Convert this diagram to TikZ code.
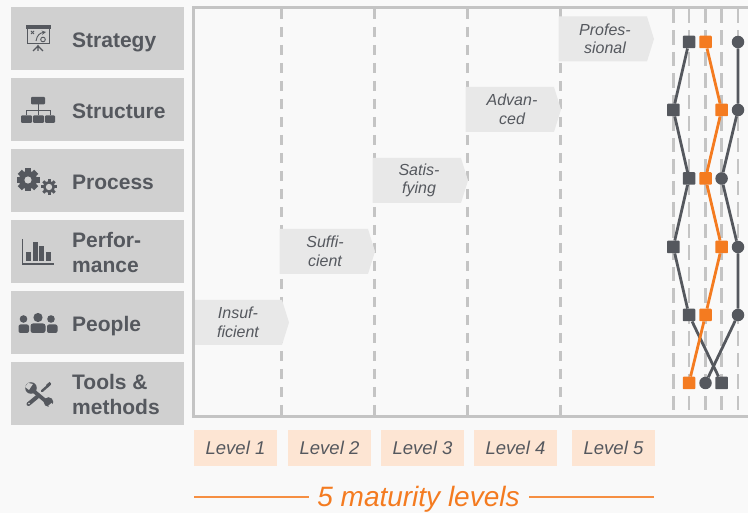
\documentclass[tikz,border=0pt]{standalone}
\usepackage{fontspec}
\setmainfont{Liberation Sans}
\definecolor{bgc}{HTML}{F9F9F9}
\definecolor{boxc}{HTML}{D0D0D0}
\definecolor{ink}{HTML}{55585E}
\definecolor{rulec}{HTML}{C4C4C4}
\definecolor{flagc}{HTML}{E8E8E8}
\definecolor{peach}{HTML}{FDE5D3}
\definecolor{orng}{HTML}{F47B20}
\tikzset{
  dimbox/.style={fill=boxc,minimum width=173pt,minimum height=63pt,inner sep=0pt},
  dimtext/.style={anchor=west,inner sep=0pt,text=ink,font=\fontsize{21}{25}\selectfont\bfseries,align=left},
  flagshape/.style={fill=flagc},
  flagtext/.style={inner sep=0pt,text=ink,font=\fontsize{16}{18.5}\selectfont\itshape,align=center},
  lvl/.style={fill=peach,minimum width=83pt,minimum height=36pt,inner sep=0pt,text=ink,font=\fontsize{18.5}{20}\selectfont\itshape},
  gridl/.style={rulec,line width=3pt,dash pattern=on 10pt off 8pt},
  gridr/.style={rulec,line width=2.4pt,dash pattern=on 14.5pt off 7pt},
  frameline/.style={rulec,line width=3pt},
  ds/.style={fill=ink,minimum size=12.5pt,inner sep=0pt,rounded corners=.8pt},
  os/.style={fill=orng,minimum size=12.5pt,inner sep=0pt,rounded corners=.8pt},
  dc/.style={circle,fill=ink,minimum size=12.5pt,inner sep=0pt},
  dl/.style={ink,line width=2.8pt},
  ol/.style={orng,line width=2.8pt},
}
\newcommand{\flagat}[4]{\fill[flagshape] (#1-1.5,#2) -- (#1+87,#2) -- (#1+94,#2+22.5) -- (#1+87,#2+45) -- (#1-1.5,#2+45) -- cycle;
  \node[flagtext] at (#1+43+#4,#2+22.5) {#3};}
\begin{document}
\begin{tikzpicture}[x=1pt,y=-1pt]
\useasboundingbox (0,0) rectangle (748,513);
\fill[bgc] (0,0) rectangle (748,513);
% left boxes
\foreach \y/\n in {38.5/a,109.5/b,180.5/c,251.5/d,322.5/e,393.5/f}
  \node[dimbox] (box\n) at (97.5,\y) {};
\node[dimtext] (ta) at (72,42) {Strategy};
\node[dimtext] (tb) at (72,111) {Structure};
\node[dimtext] (tc) at (72,182) {Process};
\node[dimtext] (td) at (72,252) {Perfor-\\mance};
\node[dimtext] (te) at (72,326) {People};
\node[dimtext] (tf) at (72,394) {Tools \&\\methods};
% strategy icon
\fill[ink] (25.5,25.5) rectangle (50.5,29);
\draw[ink,line width=1pt] (27,29) -- (27,44) -- (49,44) -- (49,29);
\draw[ink,line width=1.2pt] (38,45) -- (38,51) (33,51) -- (38,46) -- (43,51);
\draw[ink,line width=.9pt] (31,31) -- (34,34) (34,31) -- (31,34);
\draw[ink,line width=.9pt,-stealth] (36,41) .. controls (37,35) and (40,33) .. (46,32);
\draw[ink,line width=.9pt] (43,39.5) circle (2.3);
% structure icon
\fill[ink,rounded corners=1pt] (31,97) rectangle (45,104.5);
\fill[ink,rounded corners=1pt] (21,115.5) rectangle (32,123);
\fill[ink,rounded corners=1pt] (33,115.5) rectangle (44,123);
\fill[ink,rounded corners=1pt] (45,115.5) rectangle (55,123);
\draw[ink,line width=.8pt] (38,104) -- (38,115.5) (26.5,115.5) -- (26.5,110) -- (50,110) -- (50,115.5);
% process icon
\foreach \a in {0,45,...,135}
  \fill[ink,rotate around={\a:(28,180)}] (25,168.5) rectangle (31,191.5);
\fill[ink] (28,180) circle (9);
\fill[boxc] (28,180) circle (3.6);
\foreach \a in {0,45,...,135}
  \fill[ink,rotate around={\a:(49,187)}] (47.5,179) rectangle (50.5,195);
\fill[ink] (49,187) circle (5.8);
\fill[boxc] (49,187) circle (3.2);
% performance icon
\draw[ink,line width=1.2pt] (22.5,239) -- (22.5,264) -- (54,264);
\fill[ink] (26,252) rectangle (31,261);
\fill[ink] (32.5,242) rectangle (37.5,261);
\fill[ink] (39,246) rectangle (44,261);
\fill[ink] (45.5,252) rectangle (50.5,261);
% people icon
\fill[ink] (38,317.5) circle (4.6);
\fill[ink] (23.5,319) circle (3.8);
\fill[ink] (51,319) circle (3.8);
\fill[ink,rounded corners=2.5pt] (30.5,333) -- (30.5,323.5) -- (45.5,323.5) -- (45.5,333) -- cycle;
\fill[ink,rounded corners=2pt] (18.5,333) -- (18.5,324.5) -- (29,324.5) -- (29,333) -- cycle;
\fill[ink,rounded corners=2pt] (47,333) -- (47,324.5) -- (57.5,324.5) -- (57.5,333) -- cycle;
% tools icon
\draw[ink,line width=3.8pt,line cap=round] (30,388) -- (48,403);
\fill[ink] (31,388) circle (5.8);
\fill[boxc] (28,383) -- (33,384) -- (29,390) -- (25,387) -- cycle;
\fill[ink] (48.5,402) circle (4.8);
\fill[boxc] (51.5,403) -- (48,406) -- (51,408) -- (54,406) -- cycle;
\draw[ink,line width=2.4pt,line cap=round] (50,384) -- (42,391);
\fill[ink] (46,385) -- (49.5,382) -- (51,383.5) -- (48,387.5) -- cycle;
\draw[ink,line width=4pt,line cap=round] (37,397) -- (28.5,404);
\fill[boxc] (29,403.5) circle (.8);
% grid lines
\foreach \x in {281,374,467,560} \draw[gridl] (\x,9) -- (\x,416);
\foreach \x in {673.3,689,705.5,721.6,738} \draw[gridr] (\x,9) -- (\x,416);
% flags
\flagat{195}{300}{Insuf-\\ficient}{0}
\flagat{281}{229}{Suffi-\\cient}{1}
\flagat{374}{158}{Satis-\\fying}{2}
\flagat{467}{87}{Advan-\\ced}{2}
\flagat{560}{16.5}{Profes-\\sional}{2}
% chart frame, above the first flag
\draw[frameline] (748,8) -- (193.5,8) -- (193.5,417) -- (748,417);
% level boxes
\node[lvl] (l1) at (235.5,448) {Level 1};
\node[lvl] (l2) at (329.5,448) {Level 2};
\node[lvl] (l3) at (422.5,448) {Level 3};
\node[lvl] (l4) at (515.5,448) {Level 4};
\node[lvl] (l5) at (613.5,448) {Level 5};
% caption
\node[inner sep=0pt,text=orng,font=\fontsize{28}{30}\selectfont\itshape] (cap) at (418.5,499) {5 maturity levels};
\coordinate (capl) at (194,497);
\coordinate (capr) at (654,497);
\draw[orng!85!white,line width=1.6pt] (capl) -- ++(115,0);
\draw[orng!85!white,line width=1.6pt] (capr) -- ++(-125,0);
% series markers
\node[ds] (s1) at (689,42) {};
\node[ds] (s2) at (673.3,110) {};
\node[ds] (s3) at (689,178.5) {};
\node[ds] (s4) at (673.3,247) {};
\node[ds] (s5) at (689,315) {};
\node[ds] (s6) at (721.6,383) {};
\node[os] (o1) at (705.5,42) {};
\node[os] (o2) at (721.6,110) {};
\node[os] (o3) at (705.5,178.5) {};
\node[os] (o4) at (721.6,247) {};
\node[os] (o5) at (705.5,315) {};
\node[os] (o6) at (689,383) {};
\node[dc] (c1) at (738,42) {};
\node[dc] (c2) at (738,110) {};
\node[dc] (c3) at (721.6,178.5) {};
\node[dc] (c4) at (738,247) {};
\node[dc] (c5) at (738,315) {};
\node[dc] (c6) at (705.5,383) {};
\draw[dl] (s1) -- (s2) -- (s3) -- (s4) -- (s5) -- (s6);
\draw[ol] (o1) -- (o2) -- (o3) -- (o4) -- (o5) -- (o6);
\draw[dl] (c1) -- (c2) -- (c3) -- (c4) -- (c5) -- (c6);
\end{tikzpicture}
\end{document}
